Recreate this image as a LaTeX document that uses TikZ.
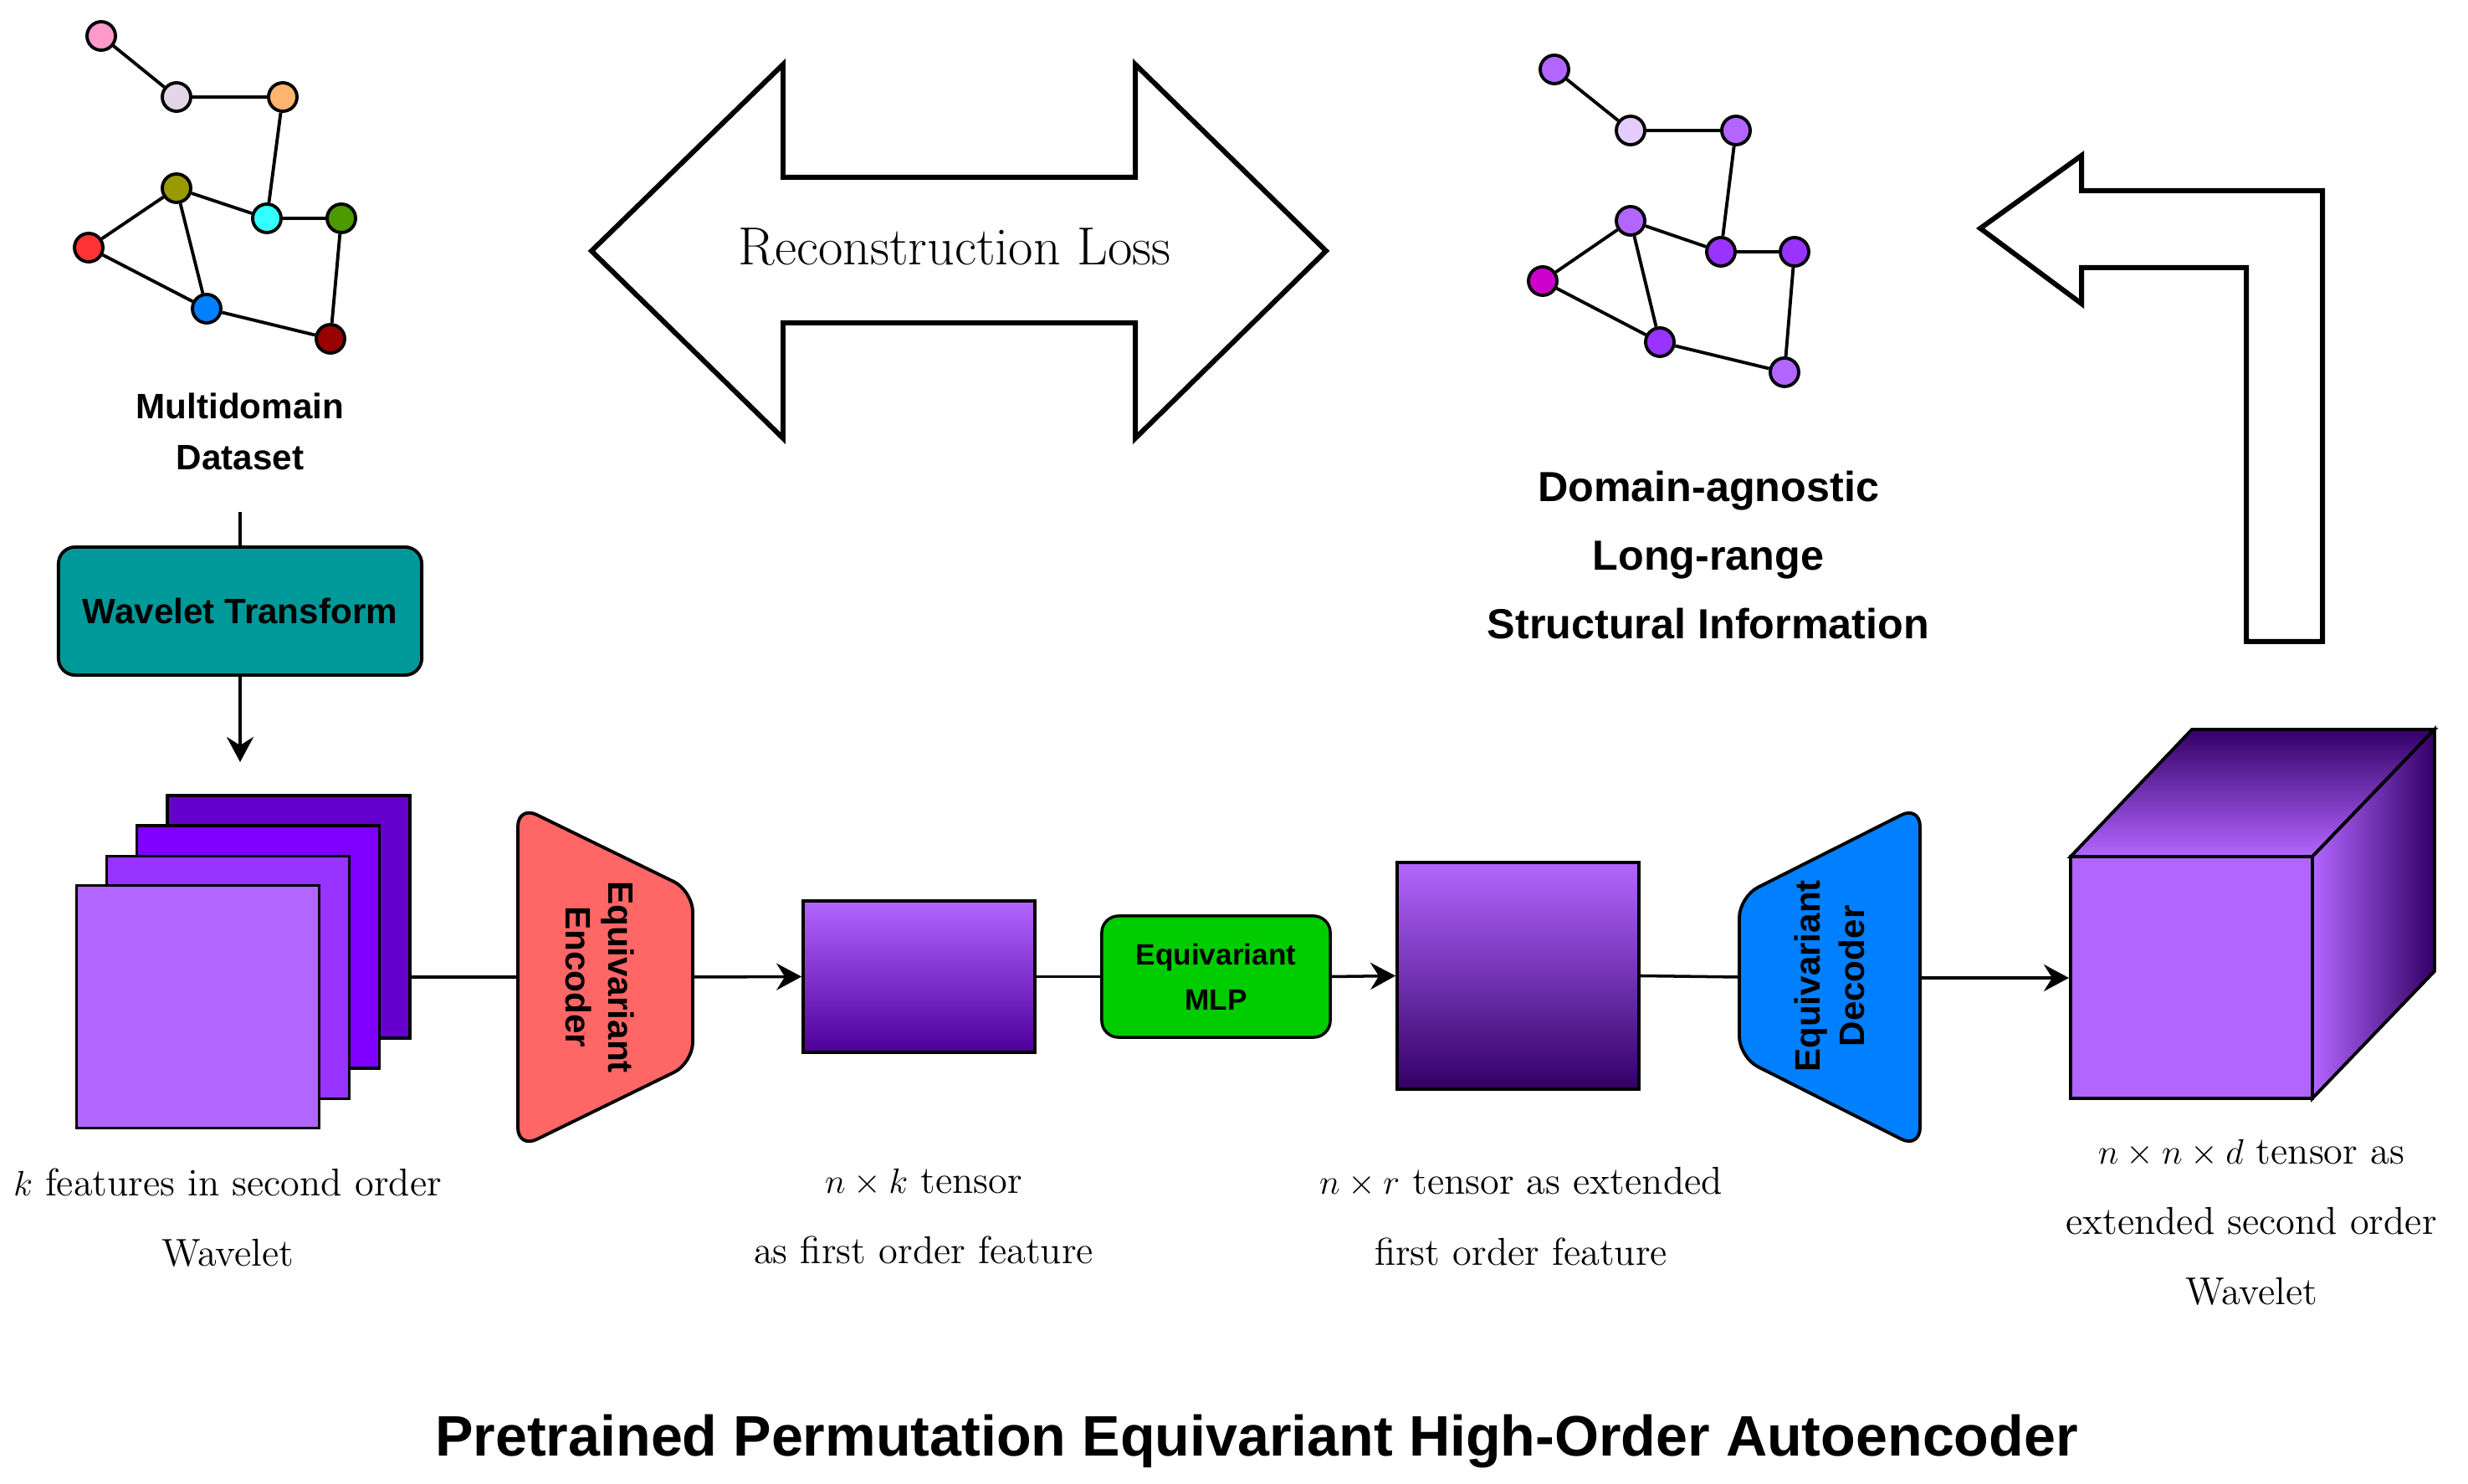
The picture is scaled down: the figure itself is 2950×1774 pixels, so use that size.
\documentclass[tikz,border=0pt]{standalone}
\usepackage{fontspec}
\newfontfamily\sansfont{Liberation Sans}
\usetikzlibrary{arrows.meta}

\definecolor{cPink}{HTML}{FF99CC}
\definecolor{cLav}{HTML}{E1D5E7}
\definecolor{cOrange}{HTML}{FFB570}
\definecolor{cOlive}{HTML}{999900}
\definecolor{cCyan}{HTML}{33FFFF}
\definecolor{cGreen}{HTML}{4D9900}
\definecolor{cRed}{HTML}{FF3333}
\definecolor{cBlue}{HTML}{007FFF}
\definecolor{cDRed}{HTML}{990000}
\definecolor{pA}{HTML}{B266FF}
\definecolor{pB}{HTML}{9933FF}
\definecolor{pC}{HTML}{7F00FF}
\definecolor{pD}{HTML}{6600CC}
\definecolor{pE}{HTML}{4C0099}
\definecolor{pF}{HTML}{330066}
\definecolor{pLight}{HTML}{E5CCFF}
\definecolor{pMag}{HTML}{CC00CC}
\definecolor{cTeal}{HTML}{009999}
\definecolor{cMLP}{HTML}{00CC00}
\definecolor{cEnc}{HTML}{FF6666}

\tikzset{
  gnode/.style={circle, draw, line width=1.1pt, minimum size=0.34cm, inner sep=0pt},
  gedge/.style={line width=1.1pt},
  conn/.style={line width=1pt},
  arr/.style={conn, -{Stealth[length=0.3cm,width=0.32cm,inset=0.1cm]}},
  bigarrow/.style={draw, line width=1.7pt, fill=white, line join=miter},
  sqbox/.style={draw, line width=1pt, minimum width=2.9cm, minimum height=2.9cm, inner sep=0pt},
  tens/.style={draw, line width=1pt, inner sep=0pt},
  lbl/.style={align=center, inner sep=0pt, anchor=north, font=\fontsize{13.2}{24}\selectfont},
  bsans/.style 2 args={font=\fontsize{#1}{#2}\selectfont\sansfont\bfseries},
}

\begin{document}
\begin{tikzpicture}[x=0.01cm,y=-0.01cm]
\useasboundingbox (0,0) rectangle (2950,1774);

% ---------- left graph ----------
\node[gnode, fill=cPink]   (L1) at (121,43) {};
\node[gnode, fill=cLav]    (L2) at (211,116) {};
\node[gnode, fill=cOrange] (L3) at (338,116) {};
\node[gnode, fill=cOlive]  (L4) at (211,225) {};
\node[gnode, fill=cCyan]   (L5) at (319,261) {};
\node[gnode, fill=cGreen]  (L6) at (408,261) {};
\node[gnode, fill=cRed]    (L7) at (106,296) {};
\node[gnode, fill=cBlue]   (L8) at (247,369) {};
\node[gnode, fill=cDRed]   (L9) at (395,405) {};
\draw[gedge] (L1)--(L2) (L2)--(L3) (L3)--(L5) (L4)--(L5) (L5)--(L6)
             (L4)--(L7) (L4)--(L8) (L7)--(L8) (L8)--(L9) (L6)--(L9);

% ---------- right graph ----------
\node[gnode, fill=pA]     (R1) at (1858,83) {};
\node[gnode, fill=pLight] (R2) at (1949,156) {};
\node[gnode, fill=pA]     (R3) at (2075,156) {};
\node[gnode, fill=pA]     (R4) at (1949,264) {};
\node[gnode, fill=pB]     (R5) at (2057,301) {};
\node[gnode, fill=pB]     (R6) at (2145,301) {};
\node[gnode, fill=pMag]   (R7) at (1844,336) {};
\node[gnode, fill=pB]     (R8) at (1984,409) {};
\node[gnode, fill=pA]     (R9) at (2133,445) {};
\draw[gedge] (R1)--(R2) (R2)--(R3) (R3)--(R5) (R4)--(R5) (R5)--(R6)
             (R4)--(R7) (R4)--(R8) (R7)--(R8) (R8)--(R9) (R6)--(R9);

% ---------- texts top ----------
\node[bsans={12}{17.3}, align=center, anchor=north, inner sep=0pt] (ds) at (287,469) {Multidomain\\Dataset};
\node[bsans={14.3}{23.3}, align=center, anchor=north, inner sep=0pt] (dom) at (2042,562)
  {Domain-agnostic\\Long-range\\Structural Information};

% ---------- big double arrow ----------
\draw[bigarrow] (707,300) -- (936,77) -- (936,212) -- (1357,212) -- (1357,77) -- (1585,300)
  -- (1357,524) -- (1357,386) -- (936,386) -- (936,524) -- cycle;
\node[font=\fontsize{18.2}{22}\selectfont, anchor=base, inner sep=0pt] (rl) at (1141,317) {Reconstruction Loss};

% ---------- L arrow ----------
\draw[bigarrow] (2367,273) -- (2488,186) -- (2488,228) -- (2776,228) -- (2776,767)
  -- (2685,767) -- (2685,320) -- (2488,320) -- (2488,363) -- cycle;

% ---------- wavelet transform ----------
\node[draw, line width=1.1pt, rounded corners=0.2cm, fill=cTeal, minimum width=4.34cm,
  minimum height=1.53cm, bsans={12}{14}] (wt) at (287,730.5) {Wavelet Transform};
\coordinate (dsb) at (287,612);
\coordinate (wtend) at (287,911);
\draw[conn] (dsb) -- (wt);
\draw[arr] (wt) -- (wtend);

% ---------- stacked squares ----------
\node[sqbox, fill=pD] (sq4) at (345,1096) {};
\node[sqbox, fill=pC] (sq3) at (308.5,1132) {};
\node[sqbox, fill=pB] (sq2) at (272.5,1168.5) {};
\node[sqbox, fill=pA] (sq1) at (236.5,1203.5) {};

% ---------- encoder ----------
\draw[line width=1.1pt, fill=cEnc, rounded corners=0.25cm]
  (619,963) -- (828,1065) -- (828,1271) -- (619,1373) -- cycle;
\coordinate (encL) at (619,1168);
\coordinate (encR) at (828,1168);
\node[rotate=-90, align=center, inner sep=0pt, bsans={12}{14.5}]
  (enctxt) at (717,1168) {Equivariant\\Encoder};

% ---------- tensors & MLP ----------
\node[tens, top color=pA, bottom color=pE, minimum width=2.77cm, minimum height=1.81cm] (t1) at (1098.5,1167.5) {};
\node[draw, line width=1pt, rounded corners=0.2cm, fill=cMLP, minimum width=2.73cm, minimum height=1.45cm,
  align=center, inner sep=0pt, bsans={10}{15.4}] (mlp) at (1453.5,1167.5) {Equivariant\\MLP};
\node[tens, top color=pA, bottom color=pF, minimum width=2.89cm, minimum height=2.71cm] (t2) at (1814.5,1166.5) {};

% ---------- decoder ----------
\draw[line width=1.1pt, fill=cBlue, rounded corners=0.25cm]
  (2295,963) -- (2079,1072) -- (2079,1264) -- (2295,1373) -- cycle;
\coordinate (decL) at (2079,1168);
\coordinate (decR) at (2295,1169);
\node[rotate=90, align=center, inner sep=0pt, bsans={12}{15}]
  (dectxt) at (2187,1167) {Equivariant\\Decoder};

% ---------- cube ----------
\path[draw, line width=1.1pt, top color=pF, bottom color=pA]
  (2475,1024) -- (2620,872) -- (2910,872) -- (2764,1024) -- cycle;
\path[draw, line width=1.1pt, left color=pA, right color=pF]
  (2764,1024) -- (2910,872) -- (2910,1161) -- (2764,1313) -- cycle;
\node[draw, line width=1.1pt, fill=pA, minimum width=2.89cm, minimum height=2.89cm, inner sep=0pt]
  (cubeF) at (2619.5,1168.5) {};

% ---------- connectors ----------
\draw[conn] (sq4.east |- encL) -- (encL);
\draw[arr] (encR) -- (t1.west);
\draw[conn] (t1.east) -- (mlp.west);
\draw[arr] (mlp.east) -- (t2.west);
\draw[conn] (t2.east) -- (decL);
\draw[arr] (decR) -- (decR -| cubeF.west);

% ---------- labels ----------
\node[lbl] (lb1) at (272,1396) {$k$ features in second order\\Wavelet};
\node[lbl] (lb2) at (1104,1396) {$n\times k$ tensor\\as first order feature};
\node[lbl] (lb3) at (1818,1395) {$n\times r$ tensor as extended\\first order feature};
\node[lbl] (lb4) at (2691,1361) {$n\times n\times d$ tensor as\\extended second order\\Wavelet};

% ---------- title ----------
\node[bsans={19.4}{23}, anchor=base, inner sep=0pt] (title) at (1502,1741)
  {Pretrained Permutation Equivariant High-Order Autoencoder};
\end{tikzpicture}
\end{document}
